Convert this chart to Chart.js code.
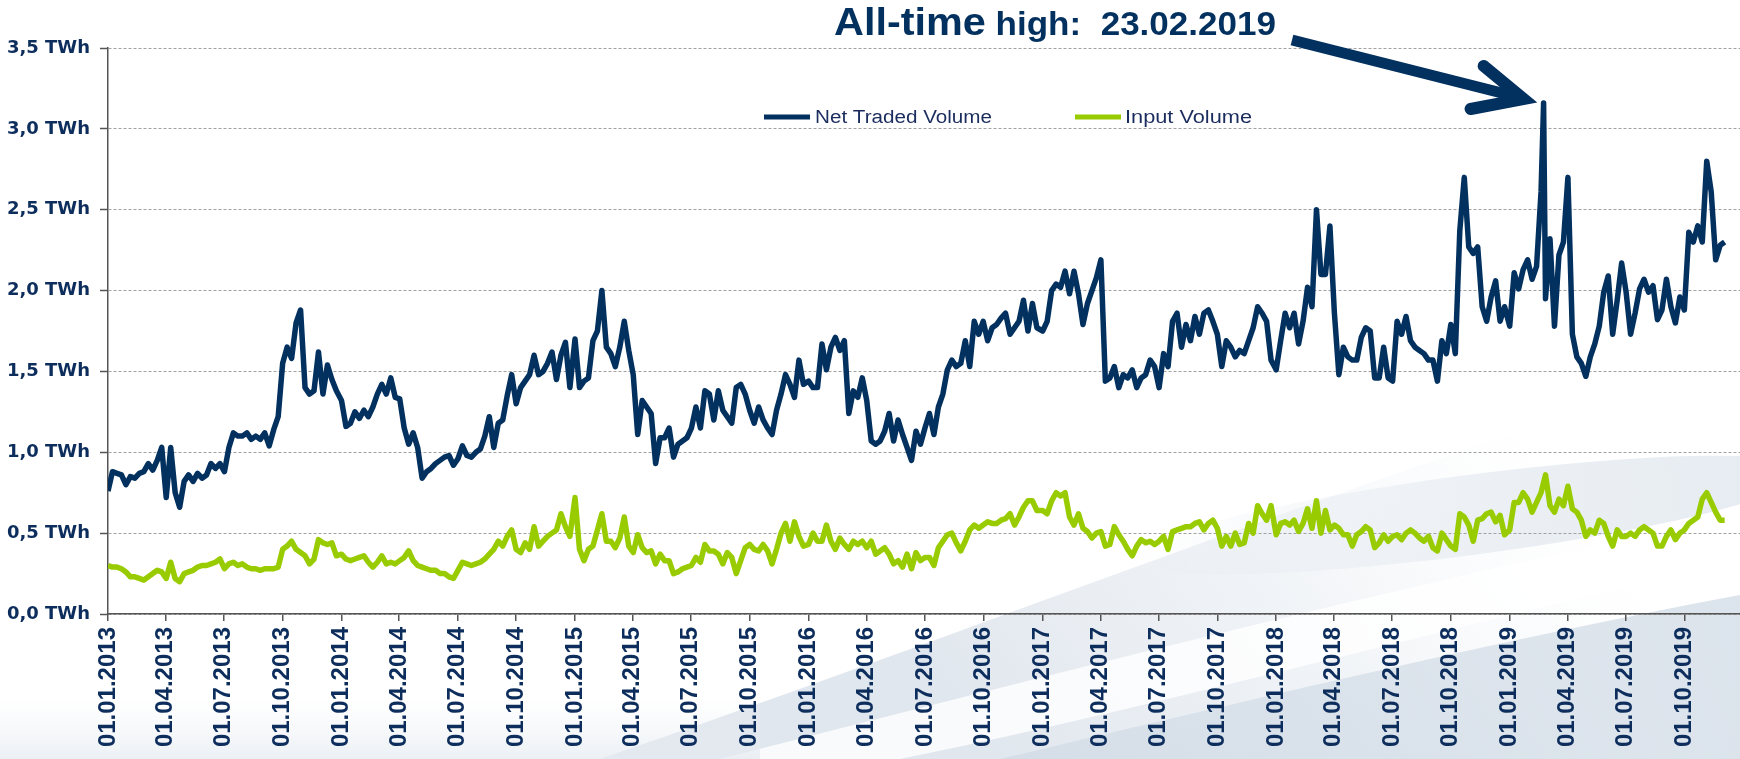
<!DOCTYPE html>
<html>
<head>
<meta charset="utf-8">
<script src="https://cdn.jsdelivr.net/npm/chart.js@4.4.1/dist/chart.umd.min.js"></script>
<style>
  html, body { margin: 0; padding: 0; background: #fff; }
  #chart { display: block; }
</style>
</head>
<body>
<canvas id="chart" width="1740" height="759"></canvas>
<script>
// --- DATA (weekly readings, each year starts on 1 January) ---
const netVolume2013 = [0.76,0.88,0.87,0.86,0.80,0.85,0.84,0.87,0.88,0.93,0.89,0.95,1.03,0.72,1.03,0.75,0.66,0.82,0.86,0.82,0.87,0.84,0.86,0.93,0.90,0.93,0.88,1.03,1.12,1.10,1.10,1.12,1.08,1.10,1.08,1.12,1.04,1.14,1.22,1.55,1.65,1.58,1.80,1.88,1.40,1.36,1.38,1.62,1.36,1.54,1.45,1.38];
const netVolume2014 = [1.32,1.16,1.18,1.25,1.21,1.26,1.22,1.28,1.36,1.42,1.36,1.46,1.34,1.33,1.15,1.05,1.12,1.03,0.84,0.88,0.90,0.93,0.95,0.97,0.98,0.92,0.96,1.04,0.98,0.97,1.00,1.02,1.10,1.22,1.03,1.18,1.20,1.35,1.48,1.30,1.40,1.44,1.48,1.60,1.48,1.50,1.55,1.62,1.45,1.60,1.68,1.40];
const netVolume2015 = [1.70,1.40,1.44,1.46,1.69,1.75,2.00,1.65,1.61,1.53,1.65,1.81,1.63,1.48,1.11,1.32,1.28,1.24,0.93,1.09,1.09,1.15,0.97,1.05,1.07,1.09,1.15,1.28,1.15,1.38,1.36,1.20,1.38,1.26,1.22,1.18,1.40,1.42,1.36,1.26,1.18,1.28,1.20,1.15,1.11,1.26,1.36,1.48,1.42,1.34,1.57,1.42];
const netVolume2016 = [1.44,1.40,1.40,1.67,1.51,1.65,1.71,1.63,1.69,1.24,1.38,1.34,1.46,1.32,1.07,1.05,1.07,1.13,1.24,1.07,1.20,1.11,1.03,0.95,1.13,1.05,1.15,1.24,1.11,1.28,1.36,1.51,1.57,1.53,1.55,1.69,1.53,1.81,1.73,1.81,1.69,1.77,1.79,1.83,1.86,1.73,1.77,1.81,1.94,1.75,1.92,1.77];
const netVolume2017 = [1.75,1.81,2.00,2.04,2.02,2.12,1.98,2.12,1.98,1.79,1.92,2.00,2.08,2.19,1.44,1.46,1.53,1.40,1.48,1.46,1.51,1.40,1.46,1.48,1.57,1.53,1.40,1.61,1.53,1.81,1.86,1.65,1.79,1.69,1.84,1.73,1.86,1.88,1.81,1.73,1.53,1.69,1.65,1.59,1.63,1.61,1.69,1.77,1.90,1.86,1.81,1.57];
const netVolume2018 = [1.51,1.69,1.86,1.77,1.86,1.67,1.81,2.02,1.90,2.50,2.10,2.10,2.40,1.86,1.48,1.65,1.59,1.57,1.57,1.71,1.77,1.75,1.46,1.46,1.65,1.46,1.44,1.81,1.73,1.84,1.69,1.65,1.63,1.61,1.57,1.57,1.44,1.69,1.61,1.79,1.61,2.37,2.70,2.27,2.23,2.27,1.90,1.81,1.96,2.06,1.81,1.90];
const netVolume2019 = [1.78,2.11,2.01,2.13,2.19,2.07,2.15,2.61,1.95,2.32,1.78,2.22,2.30,2.70,1.73,1.59,1.55,1.47,1.59,1.67,1.78,1.99,2.09,1.73,1.94,2.17,1.99,1.73,1.86,2.01,2.07,1.99,2.03,1.82,1.88,2.07,1.90,1.80,1.96,1.88,2.36,2.30,2.40,2.30,2.80,2.61,2.19,2.28,2.30];

const inputVolume2013 = [0.30,0.29,0.29,0.28,0.26,0.23,0.23,0.22,0.21,0.23,0.25,0.27,0.26,0.22,0.32,0.22,0.20,0.25,0.26,0.27,0.29,0.30,0.30,0.31,0.32,0.34,0.28,0.31,0.32,0.30,0.31,0.29,0.28,0.28,0.27,0.28,0.28,0.28,0.29,0.40,0.42,0.45,0.40,0.38,0.36,0.31,0.34,0.46,0.44,0.43,0.44,0.36];
const inputVolume2014 = [0.37,0.34,0.33,0.34,0.35,0.36,0.32,0.29,0.32,0.36,0.31,0.32,0.31,0.33,0.35,0.39,0.33,0.30,0.29,0.28,0.27,0.27,0.25,0.25,0.23,0.22,0.27,0.32,0.31,0.30,0.31,0.32,0.34,0.37,0.40,0.45,0.42,0.48,0.52,0.40,0.38,0.44,0.40,0.54,0.42,0.45,0.48,0.50,0.52,0.62,0.54,0.48];
const inputVolume2015 = [0.72,0.40,0.33,0.40,0.42,0.52,0.62,0.45,0.45,0.41,0.47,0.60,0.42,0.38,0.49,0.41,0.38,0.39,0.31,0.37,0.33,0.33,0.25,0.26,0.28,0.29,0.30,0.35,0.32,0.43,0.39,0.39,0.37,0.31,0.38,0.35,0.25,0.33,0.41,0.43,0.40,0.39,0.43,0.39,0.31,0.40,0.50,0.56,0.45,0.57,0.48,0.42];
const inputVolume2016 = [0.43,0.50,0.45,0.45,0.55,0.45,0.40,0.47,0.43,0.40,0.45,0.43,0.45,0.41,0.45,0.37,0.39,0.41,0.37,0.31,0.33,0.29,0.37,0.28,0.38,0.33,0.35,0.35,0.30,0.41,0.45,0.49,0.50,0.44,0.39,0.45,0.52,0.55,0.53,0.55,0.57,0.56,0.56,0.58,0.59,0.62,0.55,0.60,0.66,0.70,0.70,0.64];
const inputVolume2017 = [0.64,0.62,0.70,0.75,0.73,0.75,0.60,0.55,0.62,0.53,0.51,0.47,0.50,0.51,0.42,0.43,0.54,0.49,0.45,0.40,0.36,0.42,0.46,0.44,0.45,0.43,0.45,0.48,0.40,0.51,0.52,0.53,0.54,0.54,0.56,0.57,0.52,0.56,0.58,0.53,0.42,0.48,0.42,0.50,0.43,0.44,0.56,0.50,0.67,0.62,0.58,0.67];
const inputVolume2018 = [0.49,0.56,0.57,0.55,0.58,0.51,0.56,0.65,0.53,0.70,0.50,0.64,0.52,0.55,0.53,0.49,0.49,0.42,0.49,0.51,0.54,0.52,0.41,0.44,0.49,0.45,0.48,0.49,0.46,0.50,0.52,0.50,0.47,0.45,0.48,0.41,0.39,0.50,0.46,0.42,0.40,0.62,0.60,0.55,0.45,0.58,0.59,0.62,0.63,0.57,0.61,0.49];
const inputVolume2019 = [0.52,0.69,0.69,0.75,0.71,0.63,0.69,0.75,0.86,0.67,0.63,0.71,0.67,0.79,0.65,0.63,0.58,0.48,0.52,0.50,0.58,0.56,0.48,0.42,0.52,0.48,0.48,0.50,0.48,0.52,0.54,0.52,0.50,0.42,0.42,0.48,0.52,0.46,0.50,0.52,0.56,0.58,0.60,0.71,0.75,0.69,0.63,0.58,0.58];

const years = [2013, 2014, 2015, 2016, 2017, 2018, 2019];
const netByYear = [netVolume2013, netVolume2014, netVolume2015, netVolume2016, netVolume2017, netVolume2018, netVolume2019];
const inputByYear = [inputVolume2013, inputVolume2014, inputVolume2015, inputVolume2016, inputVolume2017, inputVolume2018, inputVolume2019];

const allTimeHighDate = [2019, 2, 23];   // 23.02.2019
const allTimeHighValue = 3.16;
const axisEndDate = [2019, 12, 27];

const tickMonths = [1, 4, 7, 10];
const yTicks = [0, 0.5, 1, 1.5, 2, 2.5, 3, 3.5];

const NAVY = '#03315f';
const GREEN = '#99cc00';
const TEXT = '#0d2d5c';

// --- helpers ---
const DAY = 86400000;
const t0 = Date.UTC(2013, 0, 1);
function dayIndex(y, m, d) { return Math.round((Date.UTC(y, m - 1, d) - t0) / DAY); }
function pad(n) { return n < 10 ? '0' + n : '' + n; }

function buildSeries(byYear) {
    const pts = [];
    years.forEach((y, k) => {
        const start = dayIndex(y, 1, 1);
        byYear[k].forEach((v, i) => pts.push({ x: start + 7 * i, y: v }));
    });
    return pts;
}

const netData = buildSeries(netByYear);
const peakDay = dayIndex(...allTimeHighDate);
netData.push({ x: peakDay, y: allTimeHighValue });
netData.sort((a, b) => a.x - b.x);
const inputData = buildSeries(inputByYear);

const quarterTicks = [];
const quarterLabels = [];
years.forEach(y => tickMonths.forEach(m => {
    quarterTicks.push(dayIndex(y, m, 1));
    quarterLabels.push('01.' + pad(m) + '.' + y);
}));

// --- PLUGINS ---
const backdrop = {
    id: 'backdrop',
    beforeDraw(chart) {
        const ctx = chart.ctx;
        const W = chart.width, H = chart.height;
        ctx.save();
        ctx.fillStyle = '#ffffff';
        ctx.fillRect(0, 0, W, H);

        // broad pale wedge rising to the right
        let g = ctx.createLinearGradient(1000, 759, 1500, 380);
        g.addColorStop(0, 'rgba(200,211,224,0.55)');
        g.addColorStop(0.5, 'rgba(222,229,237,0.45)');
        g.addColorStop(1, 'rgba(240,243,247,0)');
        ctx.fillStyle = g;
        ctx.beginPath();
        ctx.moveTo(600, H);
        ctx.bezierCurveTo(950, 640, 1350, 480, W, 360);
        ctx.lineTo(W, H);
        ctx.closePath();
        ctx.fill();

        // leaf shaped swoosh behind the input line
        ctx.save();
        ctx.translate(1470, 515);
        ctx.rotate(-0.13);
        g = ctx.createLinearGradient(-340, 0, 340, 0);
        g.addColorStop(0, 'rgba(210,220,231,0)');
        g.addColorStop(0.6, 'rgba(205,216,228,0.4)');
        g.addColorStop(1, 'rgba(205,216,228,0.5)');
        ctx.fillStyle = g;
        ctx.beginPath();
        ctx.ellipse(0, 0, 340, 40, 0, 0, Math.PI * 2);
        ctx.fill();
        ctx.restore();

        // white streak
        ctx.fillStyle = 'rgba(255,255,255,0.8)';
        ctx.beginPath();
        ctx.moveTo(720, H);
        ctx.bezierCurveTo(1050, 675, 1400, 585, W, 515);
        ctx.lineTo(W, 560);
        ctx.bezierCurveTo(1420, 635, 1120, 715, 900, H);
        ctx.closePath();
        ctx.fill();

        // darker band at the bottom right
        g = ctx.createLinearGradient(1000, 759, 1740, 600);
        g.addColorStop(0, 'rgba(190,204,219,0.35)');
        g.addColorStop(1, 'rgba(196,209,223,0.6)');
        ctx.fillStyle = g;
        ctx.beginPath();
        ctx.moveTo(1000, H);
        ctx.bezierCurveTo(1250, 700, 1500, 640, W, 595);
        ctx.lineTo(W, H);
        ctx.closePath();
        ctx.fill();

        // faint band lower left
        g = ctx.createLinearGradient(0, 700, 0, 759);
        g.addColorStop(0, 'rgba(235,239,244,0)');
        g.addColorStop(1, 'rgba(228,234,240,0.7)');
        ctx.fillStyle = g;
        ctx.fillRect(0, 700, 760, 59);
        ctx.restore();
    }
};

function fitText(ctx, text, x, y, targetWidth) {
    const w = ctx.measureText(text).width;
    const s = targetWidth / w;
    ctx.save();
    ctx.translate(x, y);
    ctx.scale(s, 1);
    ctx.fillText(text, 0, 0);
    ctx.restore();
}

const overlay = {
    id: 'overlay',
    afterDraw(chart) {
        const ctx = chart.ctx;
        const xs = chart.scales.x, ys = chart.scales.y;
        ctx.save();

        // legend
        const legendY = 117;
        const items = [
            { label: 'Net Traded Volume', color: NAVY, x0: 764, x1: 810, tx: 815, tw: 177 },
            { label: 'Input Volume', color: GREEN, x0: 1075, x1: 1121, tx: 1125, tw: 127 }
        ];
        ctx.font = '18px "Liberation Sans Narrow", "Liberation Sans", Arial, sans-serif';
        ctx.textBaseline = 'middle';
        ctx.textAlign = 'left';
        items.forEach(it => {
            ctx.strokeStyle = it.color;
            ctx.lineWidth = 5;
            ctx.lineCap = 'butt';
            ctx.beginPath();
            ctx.moveTo(it.x0, legendY);
            ctx.lineTo(it.x1, legendY);
            ctx.stroke();
            ctx.fillStyle = '#1b2c5e';
            fitText(ctx, it.label, it.tx, legendY + 1, it.tw);
        });

        // annotation text
        ctx.fillStyle = NAVY;
        ctx.textBaseline = 'alphabetic';
        const part1 = 'All-time', part2 = ' high:  23.02.2019';
        const f1 = 'bold 39px "Liberation Sans Narrow", "Liberation Sans", Arial, sans-serif';
        const f2 = 'bold 33px "Liberation Sans Narrow", "Liberation Sans", Arial, sans-serif';
        ctx.font = f1;
        const w1 = ctx.measureText(part1).width;
        ctx.font = f2;
        const w2 = ctx.measureText(part2).width;
        const s = 442 / (w1 + w2);
        ctx.save();
        ctx.translate(834, 35);
        ctx.scale(s, 1);
        ctx.font = f1;
        ctx.fillText(part1, 0, 0);
        ctx.font = f2;
        ctx.fillText(part2, w1, 0);
        ctx.restore();

        // arrow to the all-time high
        const px = xs.getPixelForValue(peakDay);
        const py = ys.getPixelForValue(allTimeHighValue);
        const tipX = px - 20, tipY = py - 4;
        ctx.strokeStyle = NAVY;
        ctx.lineWidth = 11;
        ctx.lineCap = 'butt';
        ctx.beginPath();
        ctx.moveTo(1292, 40);
        ctx.lineTo(tipX - 6, tipY - 2);
        ctx.stroke();
        ctx.lineWidth = 12;
        ctx.lineCap = 'round';
        ctx.lineJoin = 'miter';
        ctx.beginPath();
        ctx.moveTo(tipX - 40, tipY - 33);
        ctx.lineTo(tipX, tipY);
        ctx.lineTo(tipX - 53, tipY + 10);
        ctx.stroke();
        ctx.restore();
    }
};

// --- CHART ---
const ctx = document.getElementById('chart').getContext('2d');
new Chart(ctx, {
    type: 'line',
    data: {
        datasets: [
            {
                label: 'Net Traded Volume',
                data: netData,
                borderColor: NAVY,
                borderWidth: 5.5,
                pointRadius: 0,
                tension: 0,
                borderJoinStyle: 'round'
            },
            {
                label: 'Input Volume',
                data: inputData,
                borderColor: GREEN,
                borderWidth: 5.5,
                pointRadius: 0,
                tension: 0,
                borderJoinStyle: 'round'
            }
        ]
    },
    options: {
        responsive: false,
        animation: false,
        devicePixelRatio: 1,
        layout: { padding: { top: 48, right: 0, left: 0, bottom: 0 } },
        plugins: {
            legend: { display: false },
            tooltip: { enabled: false }
        },
        scales: {
            x: {
                type: 'linear',
                min: 0,
                max: dayIndex(...axisEndDate),
                afterBuildTicks: (scale) => { scale.ticks = quarterTicks.map(v => ({ value: v })); },
                afterFit: (scale) => { scale.height = 145; },
                ticks: {
                    autoSkip: false,
                    maxRotation: 90,
                    minRotation: 90,
                    padding: 6,
                    color: TEXT,
                    font: { family: '"Liberation Sans", Arial, sans-serif', size: 24, weight: 'bold' },
                    callback: (v, i) => quarterLabels[i]
                },
                grid: { drawOnChartArea: false, drawTicks: true, tickLength: 7, color: '#555', lineWidth: 1.5 },
                border: { color: '#555', width: 1.5 }
            },
            y: {
                min: 0,
                max: 3.5,
                afterBuildTicks: (scale) => { scale.ticks = yTicks.map(v => ({ value: v })); },
                afterFit: (scale) => { scale.width = 108; },
                ticks: {
                    padding: 10,
                    color: TEXT,
                    font: { family: '"DejaVu Sans", Verdana, sans-serif', size: 18, weight: 'bold' },
                    callback: (v) => v.toFixed(1).replace('.', ',') + ' TWh'
                },
                grid: { color: '#a2a2a2', lineWidth: 1, tickLength: 8, tickColor: '#555', tickWidth: 1.5, tickBorderDash: [] },
                border: { color: '#555', width: 1.5, dash: [3, 2] }
            }
        }
    },
    plugins: [backdrop, overlay]
});
</script>
</body>
</html>
